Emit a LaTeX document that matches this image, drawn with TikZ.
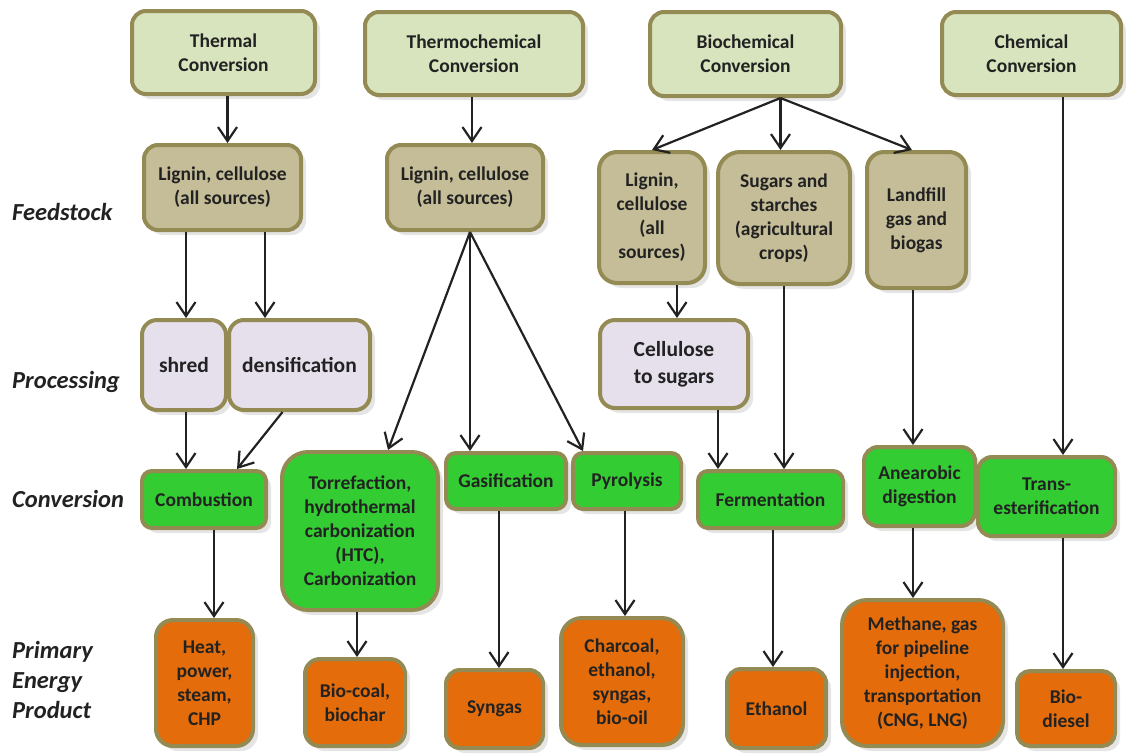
\documentclass[tikz,border=0pt]{standalone}
\usepackage{fontspec}
\setmainfont{Carlito}
\usetikzlibrary{arrows.meta,shadows}
\definecolor{edge}{HTML}{948A54}
\definecolor{topfill}{HTML}{D7E4BD}
\definecolor{feedfill}{HTML}{C4BD97}
\definecolor{procfill}{HTML}{E5E0EC}
\definecolor{convfill}{HTML}{33CC33}
\definecolor{prodfill}{HTML}{E46C0A}
\definecolor{ink}{HTML}{222222}
\tikzset{
  box/.style={draw=edge, line width=4pt, inner sep=0pt, align=center, text=ink,
    font=\bfseries\fontsize{19.5}{24}\selectfont,
    drop shadow={shadow xshift=5pt, shadow yshift=-5pt, fill=black!20}},
  topbox/.style={box, fill=topfill},
  feedbox/.style={box, fill=feedfill},
  procbox/.style={box, fill=procfill, font=\bfseries\fontsize{21.5}{27}\selectfont},
  convbox/.style={box, fill=convfill},
  prodbox/.style={box, fill=prodfill},
  rowlabel/.style={anchor=west, align=left, inner sep=0pt, text=ink,
    font=\bfseries\itshape\fontsize{24.5}{30}\selectfont},
  arr/.style={line width=2.2pt, draw=ink, -{Straight Barb[length=14pt,width=19pt]}},
}
\begin{document}
\begin{tikzpicture}[x=1pt,y=-1pt]
\useasboundingbox (0,0) rectangle (1126,753);

% row labels
\node[rowlabel] (lfeed) at (12,212) {Feedstock};
\node[rowlabel] (lproc) at (12,382) {Processing};
\node[rowlabel] (lconv) at (12,499) {Conversion};
\node[rowlabel] (lprod) at (12,680) {Primary\\Energy\\Product};

% conversion routes
\node[topbox, minimum width=183pt, minimum height=83pt, rounded corners=14pt] (thermal) at (223.5,52.5) {Thermal\\Conversion};
\node[topbox, minimum width=218pt, minimum height=83pt, rounded corners=14pt] (thermo) at (474,53.5) {Thermochemical\\Conversion};
\node[topbox, minimum width=191pt, minimum height=84pt, rounded corners=14pt] (bio) at (745.5,54) {Biochemical\\Conversion};
\node[topbox, minimum width=179pt, minimum height=83pt, rounded corners=14pt] (chem) at (1031.5,53.5) {Chemical\\Conversion};

% feedstock
\node[feedbox, minimum width=157pt, minimum height=85pt, rounded corners=14pt] (lig1) at (222.5,187.5) {Lignin, cellulose\\(all sources)};
\node[feedbox, minimum width=156pt, minimum height=85pt, rounded corners=14pt] (lig2) at (465,187.5) {Lignin, cellulose\\(all sources)};
\node[feedbox, minimum width=106pt, minimum height=131pt, rounded corners=18pt] (biolig) at (652,217.5) {Lignin,\\cellulose\\(all\\sources)};
\node[feedbox, minimum width=132pt, minimum height=132pt, rounded corners=22pt] (sugar) at (784,218) {Sugars and\\starches\\(agricultural\\crops)};
\node[feedbox, minimum width=99pt, minimum height=136pt, rounded corners=17pt] (land) at (916.5,220) {Landfill\\gas and\\biogas};

% processing
\node[procbox, minimum width=84pt, minimum height=90pt, rounded corners=15pt] (shred) at (184,365) {shred};
\node[procbox, minimum width=141pt, minimum height=90pt, rounded corners=15pt] (dens) at (299.5,365) {densification};
\node[procbox, minimum width=148pt, minimum height=88pt, rounded corners=15pt] (cell) at (674,364) {Cellulose\\to sugars};

% conversion
\node[convbox, minimum width=124pt, minimum height=57pt, rounded corners=10pt] (comb) at (204,499.5) {Combustion};
\node[convbox, minimum width=156pt, minimum height=158pt, rounded corners=26pt] (torr) at (360,531) {Torrefaction,\\hydrothermal\\carbonization\\(HTC),\\Carbonization};
\node[convbox, minimum width=120pt, minimum height=56pt, rounded corners=10pt] (gas) at (506,481) {Gasification};
\node[convbox, minimum width=108pt, minimum height=56pt, rounded corners=10pt] (pyro) at (627,481) {Pyrolysis};
\node[convbox, minimum width=145pt, minimum height=57pt, rounded corners=10pt] (ferm) at (770.5,499.5) {Fermentation};
\node[convbox, minimum width=111pt, minimum height=79pt, rounded corners=14pt] (anaer) at (919.5,486.5) {Anearobic\\digestion};
\node[convbox, minimum width=137pt, minimum height=79pt, rounded corners=14pt] (trans) at (1046.5,496.5) {Trans-\\esterification};

% primary energy products
\node[prodbox, minimum width=97pt, minimum height=126pt, rounded corners=17pt] (heat) at (204.5,683) {Heat,\\power,\\steam,\\CHP};
\node[prodbox, minimum width=100pt, minimum height=87pt, rounded corners=15pt] (biocoal) at (355,702.5) {Bio-coal,\\biochar};
\node[prodbox, minimum width=97pt, minimum height=78pt, rounded corners=14pt] (syngas) at (494.5,709) {Syngas};
\node[prodbox, minimum width=122pt, minimum height=127pt, rounded corners=21pt] (charcoal) at (622,681.5) {Charcoal,\\ethanol,\\syngas,\\bio-oil};
\node[prodbox, minimum width=99pt, minimum height=79pt, rounded corners=14pt] (ethanol) at (776.5,708.5) {Ethanol};
\node[prodbox, minimum width=161pt, minimum height=146pt, rounded corners=25pt] (methane) at (922.5,673) {Methane, gas\\for pipeline\\injection,\\transportation\\(CNG, LNG)};
\node[prodbox, minimum width=98pt, minimum height=75pt, rounded corners=13pt] (biodiesel) at (1066,708.5) {Bio-\\diesel};

% connectors
\draw[arr] ([xshift=4pt]thermal.south) -- ([xshift=5pt]lig1.north);
\draw[arr] ([xshift=-2pt]thermo.south) -- ([xshift=7pt]lig2.north);
\draw[arr] ([xshift=-36.5pt]lig1.south) -- ([xshift=2pt]shred.north);
\draw[arr] ([xshift=42.5pt]lig1.south) -- ([xshift=-34.5pt]dens.north);
\draw[arr] ([xshift=2pt]shred.south) -- ([xshift=-18pt]comb.north);
\draw[arr] ([xshift=-17pt]dens.south) -- ([xshift=33pt]comb.north);
\draw[arr] ([xshift=5pt]lig2.south) -- ([xshift=28pt]torr.north);
\draw[arr] ([xshift=5pt]lig2.south) -- ([xshift=-36pt]gas.north);
\draw[arr] ([xshift=5pt]lig2.south) -- ([xshift=-44pt]pyro.north);
\draw[arr] ([xshift=35pt]bio.south) -- (biolig.north);
\draw[arr] ([xshift=35pt]bio.south) -- ([xshift=-3.5pt]sugar.north);
\draw[arr] ([xshift=35pt]bio.south) -- ([xshift=-4.5pt]land.north);
\draw[arr] ([xshift=25pt]biolig.south) -- ([xshift=3pt]cell.north);
\draw[arr] ([xshift=44pt]cell.south) -- ([xshift=-52.5pt]ferm.north);
\draw[arr] (sugar.south) -- ([xshift=13.5pt]ferm.north);
\draw[arr] ([xshift=-3.5pt]land.south) -- ([xshift=-6.5pt]anaer.north);
\draw[arr] ([xshift=31.5pt]chem.south) -- ([xshift=16.5pt]trans.north);
\draw[arr] ([xshift=10pt]comb.south) -- ([xshift=9.5pt]heat.north);
\draw[arr] ([xshift=-3pt]torr.south) -- ([xshift=2pt]biocoal.north);
\draw[arr] ([xshift=-7pt]gas.south) -- ([xshift=4.5pt]syngas.north);
\draw[arr] ([xshift=-2pt]pyro.south) -- ([xshift=3pt]charcoal.north);
\draw[arr] ([xshift=2.5pt]ferm.south) -- ([xshift=-3.5pt]ethanol.north);
\draw[arr] ([xshift=-6.5pt]anaer.south) -- ([xshift=-9.5pt]methane.north);
\draw[arr] ([xshift=16.5pt]trans.south) -- ([xshift=-3pt]biodiesel.north);
\end{tikzpicture}
\end{document}
